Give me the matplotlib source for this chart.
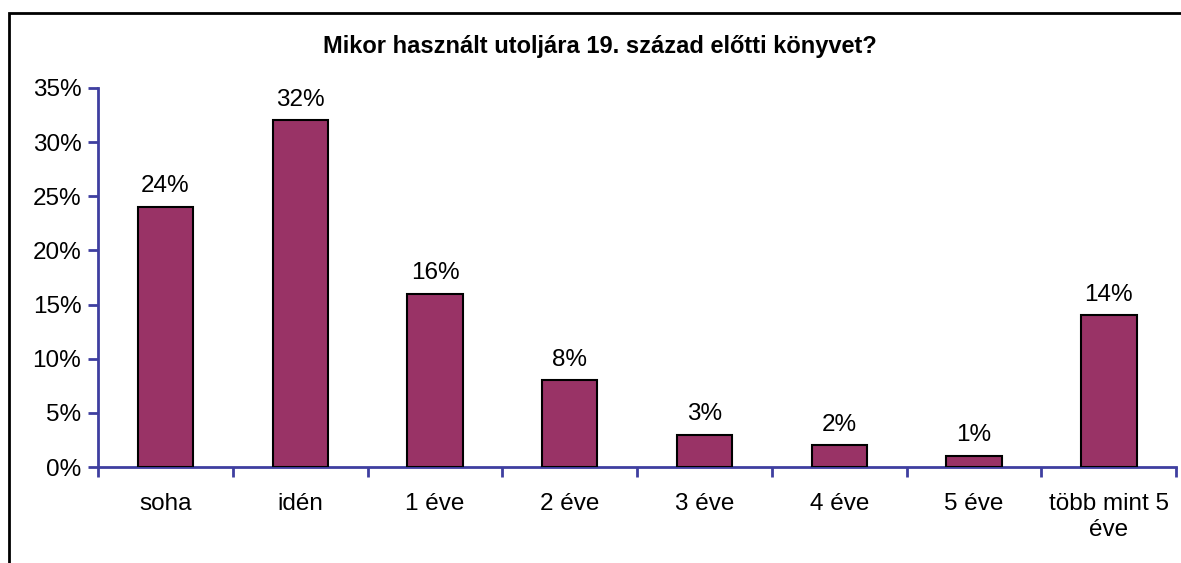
import matplotlib.pyplot as plt
from matplotlib.patches import Rectangle
from matplotlib.ticker import FixedLocator, PercentFormatter

plt.rcParams['font.family'] = ['Liberation Sans', 'DejaVu Sans']

# Adatok
kategoriak = ["soha", "idén", "1 éve", "2 éve", "3 éve", "4 éve", "5 éve", "több mint 5\néve"]
ertekek = [24, 32, 16, 8, 3, 2, 1, 14]
y_ticks = [0, 5, 10, 15, 20, 25, 30, 35]

bar_color = "#993366"
axis_color = "#3F3FA0"

fig = plt.figure(figsize=(11.81, 5.63), dpi=100)
ax = fig.add_axes([0.083, 0.1705, 0.913, 0.6732])

x = list(range(len(kategoriak)))
ax.bar(x, ertekek, width=0.41, color=bar_color, edgecolor="black", linewidth=1.5, zorder=3)

for xi, v in zip(x, ertekek):
    ax.text(xi, v + 0.9, f"{v}%", ha="center", va="bottom", fontsize=17.5)

ax.set_xlim(-0.5, len(kategoriak) - 0.5)
ax.set_ylim(0, 35)
ax.set_yticks(y_ticks)
ax.yaxis.set_major_formatter(PercentFormatter(decimals=0))

ax.set_xticks([i + 0.5 for i in range(-1, len(kategoriak))])
ax.set_xticklabels([])
ax.xaxis.set_minor_locator(FixedLocator(x))
ax.set_xticks(x, kategoriak, minor=True)
ax.tick_params(axis="x", which="minor", length=0, pad=19, labelsize=17.5)
ax.tick_params(axis="x", which="major", length=7, width=2, color=axis_color, direction="out")
ax.tick_params(axis="y", length=7, width=2, color=axis_color, direction="out", labelsize=17.5, pad=5)

for s in ["top", "right"]:
    ax.spines[s].set_visible(False)
for s in ["left", "bottom"]:
    ax.spines[s].set_color(axis_color)
    ax.spines[s].set_linewidth(2)

fig.text(0.508, 0.917, "Mikor használt utoljára 19. század előtti könyvet?",
         ha="center", va="center", fontsize=17, fontweight="bold")

# keret
fig.patches.append(Rectangle((9 / 1181, -0.2), 1.2, 1.2 - 13 / 563, transform=fig.transFigure,
                             fill=False, edgecolor="black", linewidth=2))

fig.savefig("out.png", dpi=100)
